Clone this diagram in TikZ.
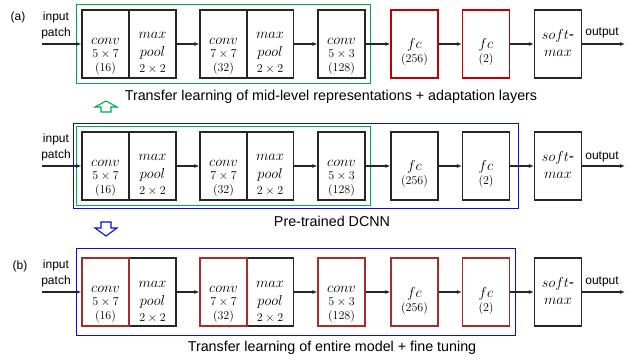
\documentclass[tikz,border=0pt]{standalone}
\usepackage[no-math]{fontspec}
\setmainfont{Liberation Sans}
\usetikzlibrary{arrows.meta,fit}
\definecolor{lgreen}{RGB}{0,170,80}
\definecolor{lred}{RGB}{192,0,0}
\definecolor{bred}{RGB}{165,45,45}
\definecolor{lblue}{RGB}{10,10,230}
\newcommand{\BigF}{\fontsize{15.5}{15}\selectfont}
\newcommand{\LowerBy}[2]{\raisebox{-#1}[\height][\depth]{#2}}
\newcommand{\ConvTxt}[2]{\LowerBy{11pt}{\begin{tabular}{@{}c@{}}\BigF$conv$\\[-2pt]$#1$\\[-1pt]$(#2)$\end{tabular}}}
\newcommand{\PoolTxt}{\LowerBy{9pt}{\begin{tabular}{@{}c@{}}\BigF$max$\\[3pt]\BigF$pool$\\[1pt]$2\times2$\end{tabular}}}
\newcommand{\FcTxt}[1]{\LowerBy{9pt}{\begin{tabular}{@{}c@{}}\BigF$fc$\\[-1pt]$(#1)$\end{tabular}}}
\newcommand{\SmTxt}{\LowerBy{1pt}{\begin{tabular}{@{}c@{}}\BigF$soft$-\\[2pt]\BigF$max$\end{tabular}}}
\begin{document}
\begin{tikzpicture}[x=1pt,y=-1pt,
  lay/.style={draw=black!85, line width=1.2pt, minimum width=47pt, minimum height=68pt,
    inner sep=0pt, font=\fontsize{11.5}{15}\selectfont},
  rlay/.style={lay, draw=lred},
  blay/.style={lay, draw=bred},
  conn/.style={line width=1.1pt, draw=black!85, -{Latex[length=5pt,width=4pt]}},
  lbl/.style={font=\fontsize{12}{16}\selectfont, inner sep=0pt, align=center},
  ttl/.style={font=\fontsize{14.3}{16}\selectfont, inner sep=0pt},
  gframe/.style={draw=lgreen, line width=1.1pt, inner sep=5pt},
  bframe/.style={draw=lblue, line width=1.1pt}]
\useasboundingbox (0,0) rectangle (639,363);

% ---------- row (a)
\node[lay] (ap1) at (152.5,44) {\PoolTxt};
\node[lay] (ac1) at (105.5,44) {\ConvTxt{5\times7}{16}};
\node[lay] (ap2) at (270,44) {\PoolTxt};
\node[lay] (ac2) at (223.5,44) {\ConvTxt{7\times7}{32}};
\node[lay] (ac3) at (341.5,44) {\ConvTxt{5\times3}{128}};
\node[rlay] (af1) at (414.5,44) {\FcTxt{256}};
\node[rlay] (af2) at (486,44) {\FcTxt{2}};
\node[lay] (asm) at (558,44) {\SmTxt};
\node[gframe, fit=(ac1)(ac3)] (agf) {};
\coordinate (ain) at (42,44);
\coordinate (aout) at (625,44);
\node[lbl] (atag) at (18,17) {(a)};
\node[lbl] (ainl) at (56,25) {input\\patch};
\node[lbl] (aoutl) at (602,33) {output};
\draw[conn] (ain) -- (ac1.west);
\draw[conn] (ap1.east) -- (ac2.west);
\draw[conn] (ap2.east) -- (ac3.west);
\draw[conn] (ac3.east) -- (af1.west);
\draw[conn] (af1.east) -- (af2.west);
\draw[conn] (af2.east) -- (asm.west);
\draw[conn] (asm.east) -- (aout);
\node[ttl] (att) at (331,97) {Transfer learning of mid-level representations + adaptation layers};
\draw[draw=lgreen, line width=1.1pt, fill=white] (106,101) -- (117,107) -- (111,107) -- (111,112)
  -- (101,112) -- (101,107) -- (95,107) -- cycle;

% ---------- middle row
\node[lay] (mp1) at (152.5,166) {\PoolTxt};
\node[lay] (mc1) at (105.5,166) {\ConvTxt{5\times7}{16}};
\node[lay] (mp2) at (270,166) {\PoolTxt};
\node[lay] (mc2) at (223.5,166) {\ConvTxt{7\times7}{32}};
\node[lay] (mc3) at (341.5,166) {\ConvTxt{5\times3}{128}};
\node[lay] (mf1) at (414.5,166) {\FcTxt{256}};
\node[lay] (mf2) at (486,166) {\FcTxt{2}};
\node[lay] (msm) at (558,166) {\SmTxt};
\node[gframe, fit=(mc1)(mc3)] (mgf) {};
\node[bframe, inner sep=8pt, fit=(mc1)(mf2)] (mbf) {};
\coordinate (min) at (42,166);
\coordinate (mout) at (625,166);
\node[lbl] (minl) at (56,147.5) {input\\patch};
\node[lbl] (moutl) at (602,157) {output};
\draw[conn] (min) -- (mc1.west);
\draw[conn] (mp1.east) -- (mc2.west);
\draw[conn] (mp2.east) -- (mc3.west);
\draw[conn] (mc3.east) -- (mf1.west);
\draw[conn] (mf1.east) -- (mf2.west);
\draw[conn] (mf2.east) -- (msm.west);
\draw[conn] (msm.east) -- (mout);
\node[ttl] (mtt) at (332,221) {Pre-trained DCNN};
\draw[draw=lblue, line width=1.1pt, fill=white] (101,222) -- (111,222) -- (111,228) -- (117,228)
  -- (106,236) -- (95,228) -- (101,228) -- cycle;

% ---------- row (b)
\node[lay] (bp1) at (152.5,292) {\PoolTxt};
\node[blay] (bc1) at (105.5,292) {\ConvTxt{5\times7}{16}};
\node[lay] (bp2) at (270,292) {\PoolTxt};
\node[blay] (bc2) at (223.5,292) {\ConvTxt{7\times7}{32}};
\node[blay] (bc3) at (341.5,292) {\ConvTxt{5\times3}{128}};
\node[blay] (bf1) at (414.5,292) {\FcTxt{256}};
\node[blay] (bf2) at (486,292) {\FcTxt{2}};
\node[lay] (bsm) at (558,292) {\SmTxt};
\node[bframe, inner xsep=5pt, inner ysep=9pt, fit=(bc1)(bf2)] (bbf) {};
\coordinate (bin) at (42,292);
\coordinate (bout) at (625,292);
\node[lbl] (btag) at (20,266) {(b)};
\node[lbl] (binl) at (56,273.5) {input\\patch};
\node[lbl] (boutl) at (602,282) {output};
\draw[conn] (bin) -- (bc1.west);
\draw[conn] (bp1.east) -- (bc2.west);
\draw[conn] (bp2.east) -- (bc3.west);
\draw[conn] (bc3.east) -- (bf1.west);
\draw[conn] (bf1.east) -- (bf2.west);
\draw[conn] (bf2.east) -- (bsm.west);
\draw[conn] (bsm.east) -- (bout);
\node[ttl] (btt) at (332,348) {Transfer learning of entire model + fine tuning};
\end{tikzpicture}
\end{document}
